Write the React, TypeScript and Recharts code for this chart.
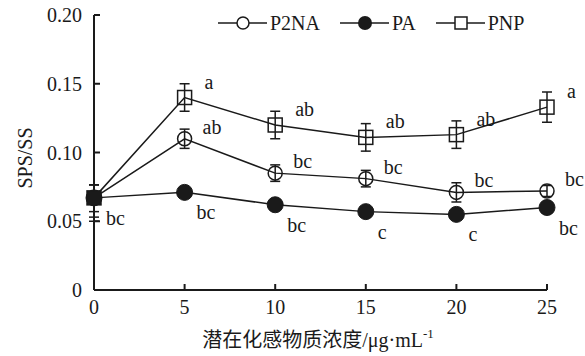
import { LineChart, Line, XAxis, YAxis, ErrorBar, LabelList, Legend } from "recharts"

const concentrations = [0, 5, 10, 15, 20, 25]
const p2na = [0.067, 0.110, 0.085, 0.081, 0.071, 0.072]
const pa = [0.067, 0.071, 0.062, 0.057, 0.055, 0.060]
const pnp = [0.067, 0.140, 0.120, 0.111, 0.113, 0.133]
const p2naErr = [[0.014, 0.0095], 0.007, 0.006, 0.006, 0.007, 0.004]
const paErr = [[0.010, 0.0095], 0.003, 0.002, 0.002, 0.002, 0.002]
const pnpErr = [[0.017, 0.0095], 0.010, 0.010, 0.010, 0.010, 0.011]
const p2naLetters = ["", "ab", "bc", "bc", "bc", "bc"]
const paLetters = ["bc", "bc", "bc", "c", "c", "bc"]
const pnpLetters = ["", "a", "ab", "ab", "ab", "a"]
const yTicks = [0, 0.05, 0.1, 0.15, 0.2]

const data = concentrations.map((c, i) => ({
  c,
  p2na: p2na[i],
  pa: pa[i],
  pnp: pnp[i],
  p2naErr: p2naErr[i],
  paErr: paErr[i],
  pnpErr: pnpErr[i],
  p2naL: p2naLetters[i],
  paL: paLetters[i],
  pnpL: pnpLetters[i],
}))

const FONT = "'Liberation Serif', 'Times New Roman', 'Noto Sans CJK SC', serif"
const INK = "#1a1a1a"

const circleDot = (props: any) => (
  <circle key={props.index} cx={props.cx} cy={props.cy} r={7} fill="none" stroke={INK} strokeWidth={1.5} />
)
const filledDot = (props: any) => (
  <circle key={props.index} cx={props.cx} cy={props.cy} r={8} fill={INK} stroke={INK} />
)
const squareDot = (props: any) => (
  <rect
    key={props.index}
    x={props.cx - 7}
    y={props.cy - 7}
    width={14}
    height={14}
    fill={props.index === 0 ? INK : "none"}
    stroke={INK}
    strokeWidth={1.5}
  />
)

const letter = (dx: number, dy: number) => (props: any) => {
  if (!props.value) return null
  return (
    <text x={props.x + dx} y={props.y + dy} dominantBaseline="central" fontFamily={FONT} fontSize={20} fill={INK}>
      {props.value}
    </text>
  )
}

const icons: Record<string, (x: number) => any> = {
  P2NA: (x) => <circle cx={x} cy={10} r={6} fill="white" stroke={INK} strokeWidth={1.5} />,
  PA: (x) => <circle cx={x} cy={10} r={7} fill={INK} />,
  PNP: (x) => <rect x={x - 6} y={4} width={12} height={12} fill="white" stroke={INK} strokeWidth={1.5} />,
}

const renderLegend = (props: any) => (
  <div style={{ display: "flex", alignItems: "center", fontFamily: FONT, fontSize: 20, color: INK }}>
    {props.payload.map((p: any) => (
      <div key={p.value} style={{ display: "flex", alignItems: "center", marginRight: 20 }}>
        <svg width={49} height={20}>
          <line x1={0} y1={10} x2={49} y2={10} stroke={INK} strokeWidth={1.5} />
          {icons[p.value](25)}
        </svg>
        <span style={{ marginLeft: 3, lineHeight: "24px" }}>{p.value}</span>
      </div>
    ))}
  </div>
)

export default function App() {
  return (
    <div style={{ position: "absolute", left: 0, top: 0, width: 585, height: 356, background: "#fff" }}>
      <LineChart width={585} height={356} data={data} margin={{ top: 15, right: 38, bottom: 16, left: 0 }}>
        <XAxis
          dataKey="c"
          type="number"
          domain={[0, 25]}
          ticks={concentrations}
          height={50}
          tickSize={-6}
          tickMargin={16}
          axisLine={{ stroke: INK, strokeWidth: 2 }}
          tickLine={{ stroke: INK, strokeWidth: 2 }}
          tick={{ fill: INK, fontSize: 20, fontFamily: FONT }}
          label={{
            content: () => (
              <text x={318} y={347} textAnchor="middle" fontFamily={FONT} fontSize={20} fill={INK}>
                潜在化感物质浓度/μg·mL
                <tspan fontSize={13} dy={-9}>-1</tspan>
              </text>
            ),
          }}
        />
        <YAxis
          type="number"
          domain={[0, 0.2]}
          ticks={yTicks}
          width={94}
          tickSize={-6}
          tickMargin={18}
          axisLine={{ stroke: INK, strokeWidth: 2 }}
          tickLine={{ stroke: INK, strokeWidth: 2 }}
          tick={{ fill: INK, fontSize: 20, fontFamily: FONT }}
          tickFormatter={(v: number) => (v === 0 ? "0" : v.toFixed(2))}
          label={{
            content: () => (
              <text
                x={25}
                y={158}
                transform="rotate(-90 25 158)"
                textAnchor="middle"
                dominantBaseline="central"
                fontFamily={FONT}
                fontSize={20}
                fill={INK}
              >
                SPS/SS
              </text>
            ),
          }}
        />
        <Legend
          layout="horizontal"
          verticalAlign="middle"
          align="center"
          wrapperStyle={{ top: 11, left: 218, width: "auto" }}
          content={renderLegend}
        />
        <Line
          name="P2NA"
          dataKey="p2na"
          stroke={INK}
          strokeWidth={1.5}
          dot={circleDot}
          activeDot={false}
          isAnimationActive={false}
        >
          <ErrorBar dataKey="p2naErr" width={5} stroke={INK} strokeWidth={1.5} />
          <LabelList dataKey="p2naL" content={letter(18, -12)} />
        </Line>
        <Line
          name="PA"
          dataKey="pa"
          stroke={INK}
          strokeWidth={1.5}
          dot={filledDot}
          activeDot={false}
          isAnimationActive={false}
        >
          <ErrorBar dataKey="paErr" width={5} stroke={INK} strokeWidth={1.5} />
          <LabelList dataKey="paL" content={letter(12, 20)} />
        </Line>
        <Line
          name="PNP"
          dataKey="pnp"
          stroke={INK}
          strokeWidth={1.5}
          dot={squareDot}
          activeDot={false}
          isAnimationActive={false}
        >
          <ErrorBar dataKey="pnpErr" width={5} stroke={INK} strokeWidth={1.5} />
          <LabelList dataKey="pnpL" content={letter(20, -16)} />
        </Line>
      </LineChart>
    </div>
  )
}
